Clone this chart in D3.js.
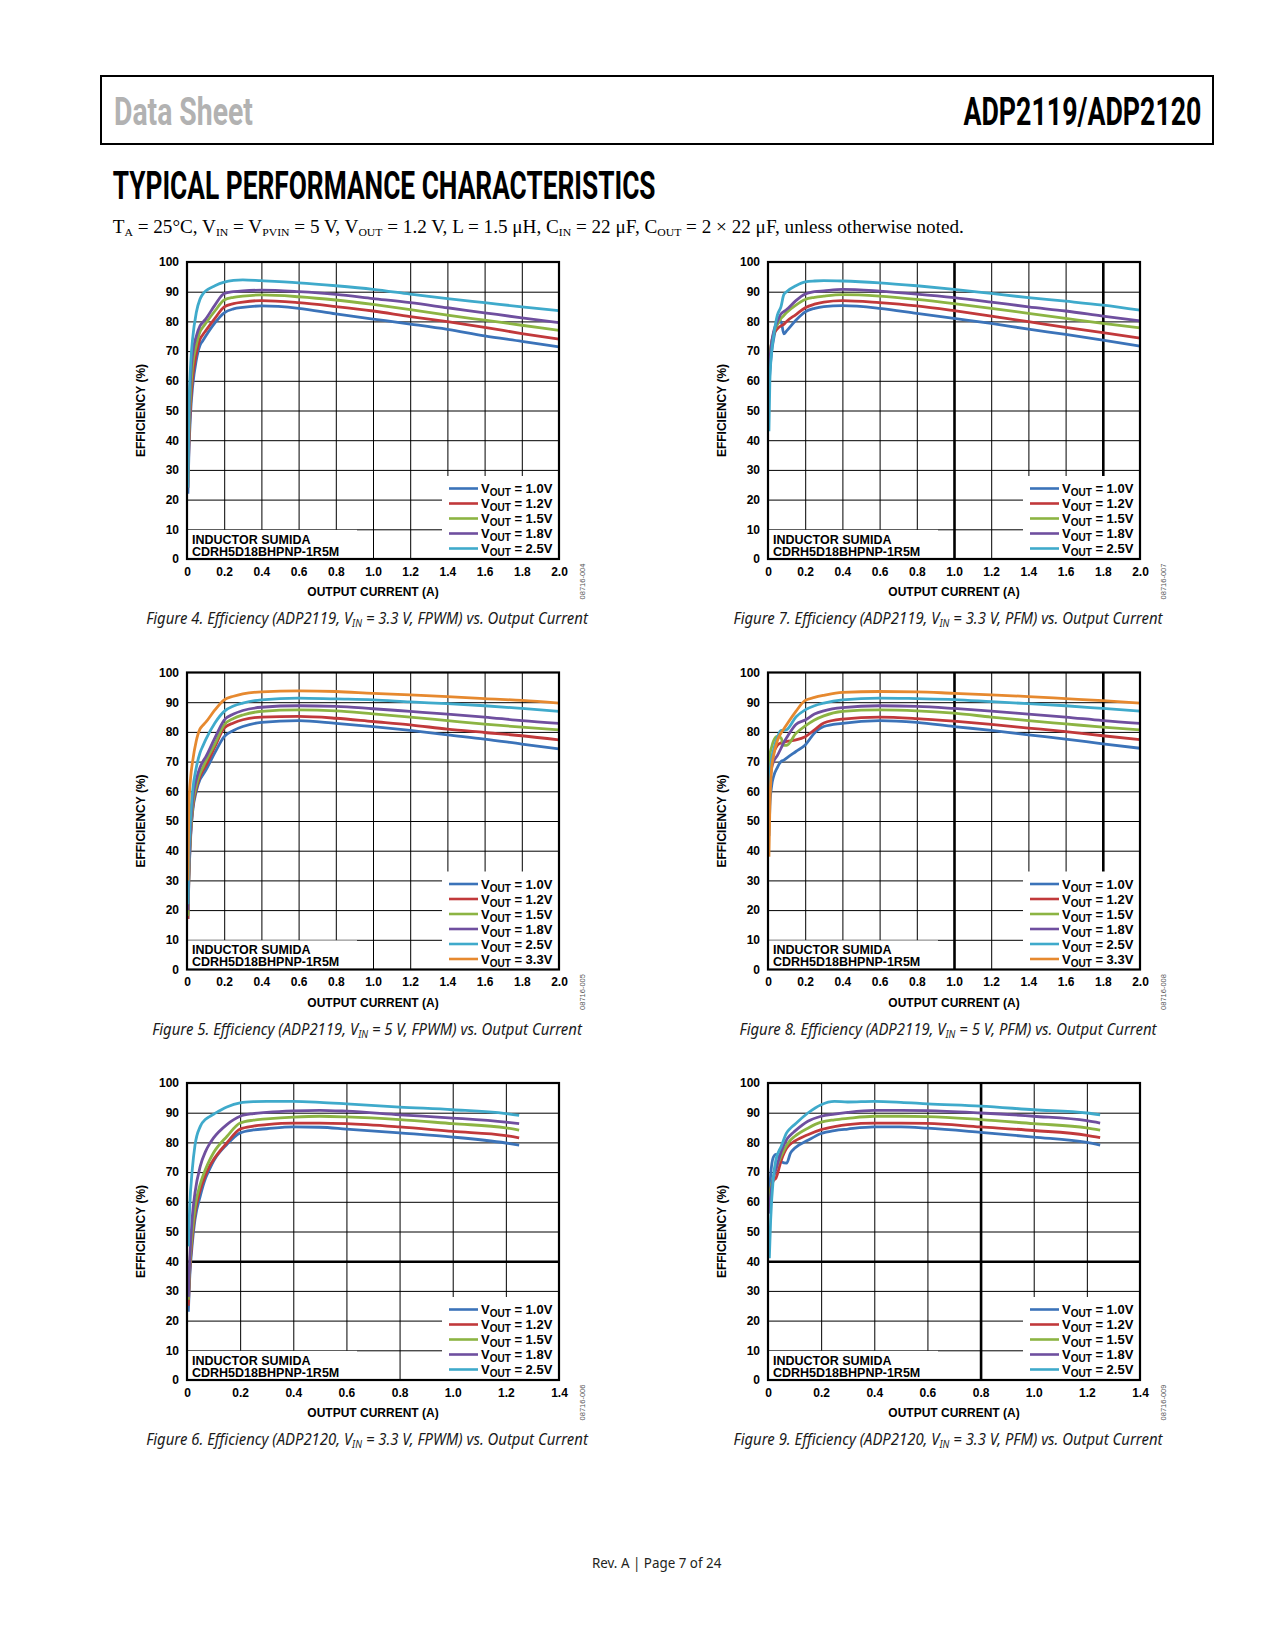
<!DOCTYPE html>
<html>
<head>
<meta charset="utf-8">
<script src="https://cdnjs.cloudflare.com/ajax/libs/d3/7.8.5/d3.min.js"></script>
<style>
    body { margin: 0; background: #fff; }
    svg text { font-family: "Liberation Sans", Arial, sans-serif; }
    .bold { font-weight: bold; fill: #000; }
    .cond { font-family: "Liberation Sans Narrow", "Roboto", sans-serif; font-weight: bold; }
    .caption { font-family: "Noto Sans", "Open Sans", sans-serif; font-style: italic; font-size: 15.5px; fill: #1a1a1a; }
</style>
</head>
<body>
<svg id="page" width="1275" height="1650"></svg>
<script>

    // output current grids (A)
    const gridA = [0.005, 0.01, 0.02, 0.03, 0.05, 0.07, 0.085, 0.1, 0.15, 0.2, 0.25, 0.3, 0.4, 0.6, 0.8, 1.0, 1.2, 1.4, 1.6, 1.8, 2.0];
    const gridB = [0.005, 0.01, 0.02, 0.03, 0.05, 0.07, 0.085, 0.1, 0.15, 0.2, 0.25, 0.3, 0.4, 0.5, 0.6, 0.8, 1.0, 1.2, 1.25];

    const xTicks20 = [0, 0.2, 0.4, 0.6, 0.8, 1.0, 1.2, 1.4, 1.6, 1.8, 2.0];
    const xTicks14 = [0, 0.2, 0.4, 0.6, 0.8, 1.0, 1.2, 1.4];
    const yTicks = [0, 10, 20, 30, 40, 50, 60, 70, 80, 90, 100];

    const voutLabels5 = ["1.0V", "1.2V", "1.5V", "1.8V", "2.5V"];
    const voutLabels6 = ["1.0V", "1.2V", "1.5V", "1.8V", "2.5V", "3.3V"];

    // Figure 4: ADP2119, VIN = 3.3 V, FPWM
    const fig4Vout10 = [22, 35, 50, 58, 67, 72, 73.5, 75, 79.5, 82.9, 84.2, 84.7, 85.2, 84.4, 82.5, 80.8, 79.1, 77.3, 75.1, 73.3, 71.4];
    const fig4Vout12 = [24, 38, 53, 61, 69, 74, 75.5, 76.8, 81, 84.9, 86, 86.5, 87, 86.3, 85, 83.5, 81.6, 79.9, 78, 75.9, 74];
    const fig4Vout15 = [27, 42, 57, 65, 72, 76.5, 78, 79.3, 83.5, 87.2, 88.1, 88.5, 88.9, 88.3, 87.2, 85.7, 84, 82.1, 80.4, 78.7, 77];
    const fig4Vout18 = [29, 46, 62, 69, 75, 78.5, 79.7, 80.8, 85.5, 89.4, 90, 90.3, 90.5, 90, 89.1, 87.7, 86.3, 84.6, 82.9, 81.2, 79.6];
    const fig4Vout25 = [24, 48, 66, 74, 83, 87.5, 89.2, 90.2, 92, 93.2, 93.8, 94, 93.7, 93, 92, 90.8, 89.2, 87.7, 86.3, 84.9, 83.6];

    // Figure 7: ADP2119, VIN = 3.3 V, PFM
    const fig7Vout10 = [58, 63, 70, 74, 79, 80, 75.8, 76.8, 80.4, 83.2, 84.4, 85, 85.3, 84.4, 82.7, 81, 79.3, 77.4, 75.6, 73.7, 71.7];
    const fig7Vout12 = [60, 68, 73, 75.5, 77.5, 78.5, 79, 80, 82.3, 84.6, 85.8, 86.5, 87, 86.3, 85.2, 83.6, 81.8, 79.9, 78, 76.2, 74.4];
    const fig7Vout15 = [62, 68, 73, 76, 79, 81, 82, 83, 85.5, 87.4, 88.1, 88.5, 89, 88.5, 87.4, 86, 84.4, 82.7, 81, 79.3, 77.8];
    const fig7Vout18 = [58, 66, 73, 76.5, 80, 82.5, 83.3, 84, 87, 89.2, 90, 90.3, 90.8, 90.2, 89.2, 88, 86.5, 84.9, 83.5, 81.8, 80.2];
    const fig7Vout25 = [43, 60, 70, 75, 82, 85, 89, 90, 92, 93.3, 93.6, 93.7, 93.6, 93, 92, 90.8, 89.4, 88, 86.8, 85.5, 83.8];

    // Figure 5: ADP2119, VIN = 5 V, FPWM
    const fig5Vout10 = [17, 30, 45, 53, 60, 64, 65.5, 67, 73, 78.4, 80.5, 81.8, 83.2, 83.8, 82.9, 81.8, 80.5, 79, 77.6, 75.9, 74.3];
    const fig5Vout12 = [17, 31, 46, 54, 61, 65, 67, 68.5, 75, 81.3, 83, 84.1, 85, 85.2, 84.6, 83.5, 82.4, 80.9, 79.8, 78.7, 77.3];
    const fig5Vout15 = [18, 32, 47, 55, 62, 66, 68, 70, 76, 82.4, 84.5, 85.7, 86.9, 87.4, 87.1, 86.1, 85, 83.8, 82.6, 81.6, 80.7];
    const fig5Vout18 = [20, 34, 49, 57, 64, 68, 70, 71.5, 78, 84, 86, 87.2, 88.3, 88.8, 88.6, 87.8, 86.9, 86, 85, 83.8, 82.9];
    const fig5Vout25 = [22, 38, 52, 60, 68, 73, 75.2, 77.3, 83, 86.9, 88.7, 89.7, 90.8, 91.4, 91.1, 90.8, 90.1, 89.5, 88.8, 87.9, 86.9];
    const fig5Vout33 = [30, 55, 65, 70, 77, 81, 82.2, 83.2, 87.4, 90.8, 92, 92.8, 93.5, 93.8, 93.6, 93, 92.5, 91.9, 91.2, 90.6, 89.7];

    // Figure 8: ADP2119, VIN = 5 V, PFM
    const fig8Vout10 = [45, 55, 62, 65, 68, 70, 70.5, 71.2, 73.4, 75.6, 79.6, 81.8, 82.9, 83.8, 83.2, 81.8, 80.5, 79, 77.6, 76, 74.5];
    const fig8Vout12 = [52, 65, 71, 73, 75.5, 76.3, 76.6, 76.8, 77.3, 78.4, 80.7, 83, 84.3, 85, 84.5, 83.6, 82.5, 81.3, 80.1, 78.7, 77.4];
    const fig8Vout15 = [68, 72, 75, 77, 78.5, 78, 75.5, 75.5, 79.5, 82, 84, 85.4, 86.9, 87.4, 87.1, 86.3, 85, 83.8, 82.7, 81.6, 80.7];
    const fig8Vout18 = [55, 63, 68, 70, 72, 74.5, 76.5, 78, 82.5, 84, 86, 87.1, 88.2, 88.8, 88.6, 87.9, 87, 86, 85, 83.8, 82.9];
    const fig8Vout25 = [57, 65, 71, 74, 78, 80.5, 80.5, 80.7, 85, 87.4, 88.8, 89.7, 90.8, 91.4, 91.2, 90.9, 90.2, 89.5, 88.8, 87.9, 87];
    const fig8Vout33 = [38, 55, 68, 72, 77, 79.6, 81, 82.4, 86.9, 90.6, 91.6, 92.3, 93.3, 93.6, 93.5, 93, 92.5, 91.9, 91.2, 90.5, 89.7];

    // Figure 6: ADP2120, VIN = 3.3 V, FPWM
    const fig6Vout10 = [23, 34, 46, 54, 62, 68, 71, 73.7, 79.3, 83.2, 84.2, 84.6, 85.2, 85.1, 84.5, 83.2, 81.8, 79.8, 79.1];
    const fig6Vout12 = [25, 36, 48, 56, 64, 69, 72, 74.2, 79.8, 84.5, 85.5, 86, 86.5, 86.5, 86.3, 85.2, 83.7, 82.3, 81.5];
    const fig6Vout15 = [27, 38, 50, 58, 66, 71, 74, 76.5, 82, 86.5, 87.5, 87.9, 88.5, 88.8, 88.6, 87.7, 86.3, 84.9, 84.1];
    const fig6Vout18 = [28, 40, 55, 63, 72, 77, 79.5, 81.5, 86, 88.8, 89.7, 90.1, 90.6, 90.8, 90.5, 89.3, 88.2, 86.8, 86.3];
    const fig6Vout25 = [45, 58, 71, 79, 85.4, 87.8, 88.7, 89.5, 91.9, 93.3, 93.7, 93.8, 93.8, 93.5, 93, 91.9, 91, 89.7, 89.1];

    // Figure 9: ADP2120, VIN = 3.3 V, PFM
    const fig9Vout10 = [62, 69, 75, 76, 73.5, 73, 76.5, 78, 80.7, 83, 84, 84.5, 85.2, 85.2, 84.8, 83.4, 81.8, 80, 79.1];
    const fig9Vout12 = [60, 64, 67, 68, 74, 78, 79.5, 80.4, 82.6, 84.3, 85.3, 86, 86.5, 86.5, 86.4, 85.2, 84, 82.4, 81.6];
    const fig9Vout15 = [58, 64, 68, 71, 75.5, 79, 80.8, 82, 84.8, 86.8, 87.6, 88.1, 88.8, 88.8, 88.7, 87.7, 86.3, 84.9, 84.1];
    const fig9Vout18 = [56, 62, 68, 71, 77, 80.9, 82.5, 83.7, 87.1, 88.8, 89.5, 90.1, 90.8, 90.8, 90.7, 89.9, 88.8, 87.3, 86.5];
    const fig9Vout25 = [41, 54, 68, 74.2, 78.7, 83.2, 84.8, 86, 89.9, 92.7, 93.8, 93.6, 93.8, 93.5, 93, 92.2, 91, 89.9, 89.3];

    const lineColors = ["#3b73b9", "#c1393b", "#8cb443", "#6f4f9f", "#3faacb", "#e6892f"];

    const figures = [
        {num: 4, chip: "ADP2119", vin: "3.3", mode: "FPWM", code: "08716-004", col: 0, row: 0, xTicks: xTicks20,
            current: gridA, series: [fig4Vout10, fig4Vout12, fig4Vout15, fig4Vout18, fig4Vout25], labels: voutLabels5, thickX: [], thickY: []},
        {num: 7, chip: "ADP2119", vin: "3.3", mode: "PFM", code: "08716-007", col: 1, row: 0, xTicks: xTicks20,
            current: gridA, series: [fig7Vout10, fig7Vout12, fig7Vout15, fig7Vout18, fig7Vout25], labels: voutLabels5, thickX: [1.0, 1.8], thickY: []},
        {num: 5, chip: "ADP2119", vin: "5", mode: "FPWM", code: "08716-005", col: 0, row: 1, xTicks: xTicks20,
            current: gridA, series: [fig5Vout10, fig5Vout12, fig5Vout15, fig5Vout18, fig5Vout25, fig5Vout33], labels: voutLabels6, thickX: [], thickY: []},
        {num: 8, chip: "ADP2119", vin: "5", mode: "PFM", code: "08716-008", col: 1, row: 1, xTicks: xTicks20,
            current: gridA, series: [fig8Vout10, fig8Vout12, fig8Vout15, fig8Vout18, fig8Vout25, fig8Vout33], labels: voutLabels6, thickX: [1.0, 1.8], thickY: []},
        {num: 6, chip: "ADP2120", vin: "3.3", mode: "FPWM", code: "08716-006", col: 0, row: 2, xTicks: xTicks14,
            current: gridB, series: [fig6Vout10, fig6Vout12, fig6Vout15, fig6Vout18, fig6Vout25], labels: voutLabels5, thickX: [], thickY: [40]},
        {num: 9, chip: "ADP2120", vin: "3.3", mode: "PFM", code: "08716-009", col: 1, row: 2, xTicks: xTicks14,
            current: gridB, series: [fig9Vout10, fig9Vout12, fig9Vout15, fig9Vout18, fig9Vout25], labels: voutLabels5, thickX: [0.8], thickY: [40]}
    ];

    const colX = [187, 768];
    const rowY = [262, 672.5, 1083];
    const plotW = 372;
    const plotH = 297;

    const svg = d3.select("#page");

    // squeeze a text element horizontally so it spans the given width
    function fitWidth(text, x, y, width) {
        const w = text.node().getBBox().width;
        text.attr("x", 0).attr("y", 0)
            .attr("transform", `translate(${x},${y}) scale(${width / w},1)`);
    }

    // ---- page header ----
    svg.append("rect")
        .attr("x", 101).attr("y", 76).attr("width", 1112).attr("height", 68)
        .attr("fill", "none").attr("stroke", "#000").attr("stroke-width", 2);

    fitWidth(svg.append("text").attr("class", "cond").style("font-size", "38px").attr("fill", "#b2b2b2")
        .text("Data Sheet"), 114, 124.5, 139);
    fitWidth(svg.append("text").attr("class", "cond").style("font-size", "38px").attr("fill", "#000")
        .text("ADP2119/ADP2120"), 963.5, 124.5, 238);
    fitWidth(svg.append("text").attr("class", "cond").style("font-size", "39px").attr("fill", "#000")
        .text("TYPICAL PERFORMANCE CHARACTERISTICS"), 112.7, 199, 543);

    const sub = svg.append("text")
        .style("font-family", "'Liberation Serif', 'Times New Roman', serif")
        .style("font-size", "18px").attr("fill", "#000");
    const subParts = [["T", "A"], [" = 25°C, V", "IN"], [" = V", "PVIN"], [" = 5 V, V", "OUT"],
        [" = 1.2 V, L = 1.5 μH, C", "IN"], [" = 22 μF, C", "OUT"], [" = 2 × 22 μF, unless otherwise noted.", null]];
    subParts.forEach(p => {
        sub.append("tspan").attr("dy", sub.selectAll("tspan").size() ? -3 : 0).text(p[0]);
        if (p[1]) {
            sub.append("tspan").attr("dy", 3).style("font-size", "11px").text(p[1]);
        }
    });
    fitWidth(sub, 112.7, 235.5, 852);

    // ---- charts ----
    let captionScale = null;

    function drawChart(fig) {
        const x0 = colX[fig.col];
        const y0 = rowY[fig.row];
        const xMax = fig.xTicks[fig.xTicks.length - 1];
        const bottom = y0 + plotH;
        const right = x0 + plotW;

        const x = d3.scaleLinear().domain([0, xMax]).range([x0, right]);
        const y = d3.scaleLinear().domain([0, 100]).range([bottom, y0]);

        const g = svg.append("g");

        // grid
        g.append("g")
            .attr("transform", `translate(0,${bottom})`)
            .call(d3.axisBottom(x).tickValues(fig.xTicks.slice(1, -1)).tickSize(-plotH).tickFormat(""))
            .call(a => a.select(".domain").remove())
            .selectAll("line")
            .attr("stroke", "#000")
            .attr("stroke-width", d => fig.thickX.includes(d) ? 2.6 : 1);

        g.append("g")
            .attr("transform", `translate(${x0},0)`)
            .call(d3.axisLeft(y).tickValues(yTicks.slice(1, -1)).tickSize(-plotW).tickFormat(""))
            .call(a => a.select(".domain").remove())
            .selectAll("line")
            .attr("stroke", "#000")
            .attr("stroke-width", d => fig.thickY.includes(d) ? 2.6 : 1);

        // white areas under the note and the legend
        const n = fig.series.length;
        const legendH = 23 + (n - 1) * 15;
        g.append("rect")
            .attr("x", right - 117).attr("y", bottom - legendH)
            .attr("width", 117).attr("height", legendH)
            .attr("fill", "#fff");
        g.append("rect")
            .attr("x", x0 + 1).attr("y", y(10) + 0.6)
            .attr("width", 169).attr("height", bottom - y(10) - 1.2)
            .attr("fill", "#fff");

        // curves
        const line = d3.line()
            .x(d => x(d[0]))
            .y(d => y(d[1]))
            .curve(d3.curveMonotoneX);

        g.selectAll(".curve")
            .data(fig.series)
            .enter()
            .append("path")
            .attr("class", "curve")
            .attr("d", s => line(d3.zip(fig.current, s)))
            .attr("fill", "none")
            .attr("stroke", (s, i) => lineColors[i])
            .attr("stroke-width", 2.8)
            .attr("stroke-linejoin", "round");

        // frame
        g.append("rect")
            .attr("x", x0).attr("y", y0).attr("width", plotW).attr("height", plotH)
            .attr("fill", "none").attr("stroke", "#000").attr("stroke-width", 2.2);

        // tick labels
        g.append("g")
            .attr("transform", `translate(0,${bottom})`)
            .call(d3.axisBottom(x).tickValues(fig.xTicks).tickSize(0).tickPadding(8)
                .tickFormat(d => d === 0 ? "0" : d.toFixed(1)))
            .call(a => a.select(".domain").remove())
            .attr("font-family", null).attr("font-size", null)
            .selectAll("text").attr("class", "bold").style("font-size", "12px");

        g.append("g")
            .attr("transform", `translate(${x0},0)`)
            .call(d3.axisLeft(y).tickValues(yTicks).tickSize(0).tickPadding(8))
            .call(a => a.select(".domain").remove())
            .attr("font-family", null).attr("font-size", null)
            .selectAll("text").attr("class", "bold").style("font-size", "12px");

        // axis titles
        g.append("text").attr("class", "bold").style("font-size", "12px")
            .attr("text-anchor", "middle")
            .attr("transform", `translate(${x0 - 42},${y0 + plotH / 2}) rotate(-90)`)
            .text("EFFICIENCY (%)");
        g.append("text").attr("class", "bold").style("font-size", "12px")
            .attr("text-anchor", "middle")
            .attr("x", x0 + plotW / 2).attr("y", bottom + 37)
            .text("OUTPUT CURRENT (A)");

        // inductor note
        g.append("text").attr("class", "bold").style("font-size", "12.5px")
            .attr("x", x0 + 5).attr("y", bottom - 15.5).text("INDUCTOR SUMIDA");
        g.append("text").attr("class", "bold").style("font-size", "12.5px")
            .attr("x", x0 + 5).attr("y", bottom - 3.5).text("CDRH5D18BHPNP-1R5M");

        // legend
        const legend = g.selectAll(".legend")
            .data(fig.labels)
            .enter()
            .append("g")
            .attr("class", "legend")
            .attr("transform", (d, i) => `translate(0,${bottom - 10.5 - (n - 1 - i) * 15})`);
        legend.append("line")
            .attr("x1", right - 110).attr("x2", right - 81)
            .attr("stroke", (d, i) => lineColors[i]).attr("stroke-width", 2.6);
        const lt = legend.append("text").attr("class", "bold").style("font-size", "13px")
            .attr("x", right - 78).attr("y", 4.6);
        lt.append("tspan").text("V");
        lt.append("tspan").attr("dy", 3).style("font-size", "10px").text("OUT");
        lt.append("tspan").attr("dy", -3).text(d => " = " + d);

        // figure code
        g.append("text")
            .attr("text-anchor", "middle")
            .attr("transform", `translate(${right + 26},${bottom + 22.5}) rotate(-90)`)
            .style("font-size", "7.5px").attr("fill", "#555")
            .text(fig.code);

        // caption
        const cap = g.append("text").attr("class", "caption").attr("text-anchor", "middle");
        cap.append("tspan").text(`Figure ${fig.num}. Efficiency (${fig.chip}, V`);
        cap.append("tspan").attr("dy", 3).style("font-size", "10px").text("IN");
        cap.append("tspan").attr("dy", -3).text(` = ${fig.vin} V, ${fig.mode}) vs. Output Current`);
        if (captionScale === null) {
            captionScale = 443 / cap.node().getBBox().width;
        }
        cap.attr("transform", `translate(${x0 + plotW / 2 - 6},${bottom + 65}) scale(${captionScale},1)`);
    }

    figures.forEach(drawChart);

    // ---- footer ----
    const foot = svg.append("text")
        .style("font-family", "'Noto Sans', 'Open Sans', sans-serif")
        .style("font-size", "14px").attr("fill", "#231f20")
        .text("Rev. A | Page 7 of 24");
    fitWidth(foot, 592, 1568, 129.5);

</script>
</body>
</html>
